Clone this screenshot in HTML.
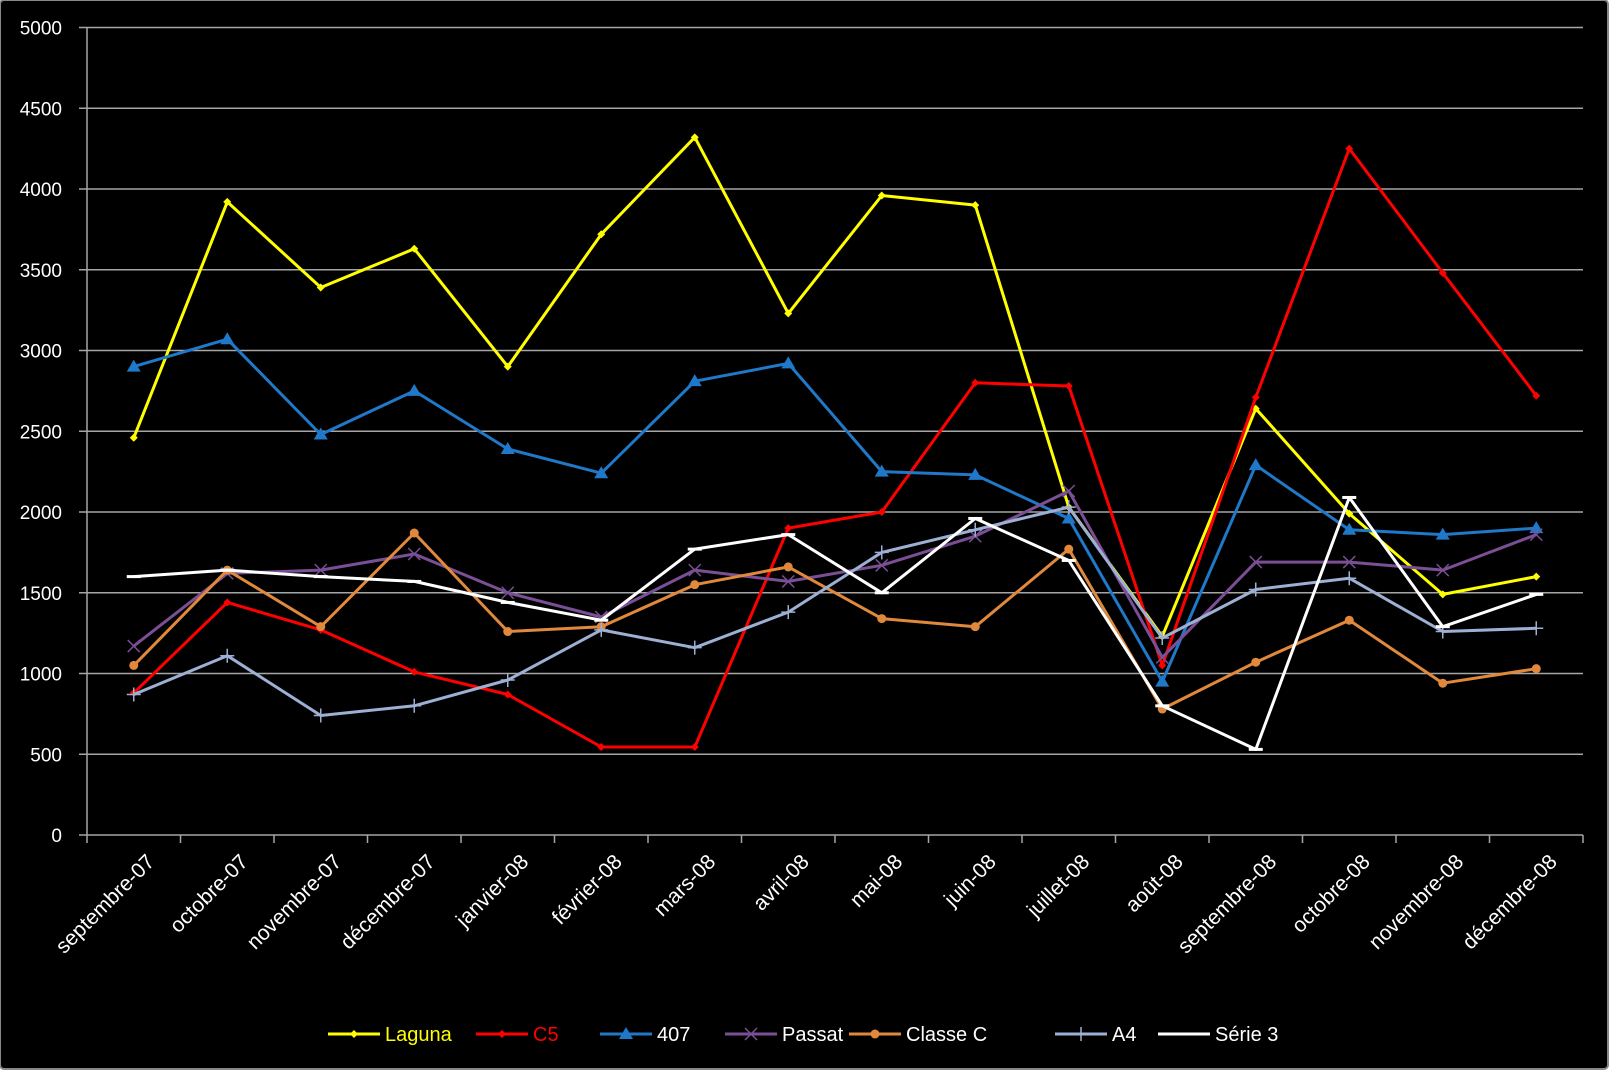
<!DOCTYPE html>
<html><head><meta charset="utf-8"><style>
html,body{margin:0;padding:0;background:#fff;}
#wrap{position:relative;width:1612px;height:1075px;overflow:hidden;background:#fff;}
svg{position:absolute;left:0;top:0;font-family:"Liberation Sans",sans-serif;}
</style></head><body>
<div id="wrap">
<svg id="chart" width="1612" height="1075">
<rect x="0" y="0" width="1608" height="1069" rx="4" fill="#000" stroke="#888" stroke-width="2"/>
<g id="grid"></g>
<g id="axes"></g>
<g id="series"></g>
<g id="legend"></g>
</svg>
</div>
<script>
const categories=["septembre-07","octobre-07","novembre-07","décembre-07","janvier-08","février-08","mars-08","avril-08","mai-08","juin-08","juillet-08","août-08","septembre-08","octobre-08","novembre-08","décembre-08"];
const yTicks=[0,500,1000,1500,2000,2500,3000,3500,4000,4500,5000];
const seriesNames=["Laguna","C5","407","Passat","Classe C","A4","Série 3"];
const laguna=[2460,3920,3390,3630,2900,3720,4320,3230,3960,3900,2030,1230,2640,1990,1490,1600];
const c5=[880,1440,1270,1010,870,545,545,1900,2000,2800,2780,1050,2710,4250,3480,2720];
const p407=[2900,3070,2480,2750,2390,2240,2810,2920,2250,2230,1960,950,2290,1890,1860,1900];
const passat=[1170,1620,1640,1740,1500,1350,1640,1570,1670,1850,2130,1100,1690,1690,1640,1860];
const classeC=[1050,1640,1290,1870,1260,1290,1550,1660,1340,1290,1770,780,1070,1330,940,1030];
const a4=[870,1110,740,800,960,1270,1160,1380,1750,1890,2030,1220,1520,1590,1260,1280];
const serie3=[1600,1640,1600,1570,1440,1330,1770,1860,1500,1960,1700,800,530,2090,1290,1490];

const NS="http://www.w3.org/2000/svg";
const L=87,R=1583,T=27.5,B=835,YMAX=5000;
const xs=i=>L+(R-L)/categories.length*(i+0.5);
const ys=v=>B-(B-T)*v/YMAX;
function mk(tag,attrs,parent){const e=document.createElementNS(NS,tag);for(const k in attrs)e.setAttribute(k,attrs[k]);parent.appendChild(e);return e;}
const grid=document.getElementById('grid'),axes=document.getElementById('axes'),sg=document.getElementById('series'),lg=document.getElementById('legend');

yTicks.forEach(v=>{
  const y=ys(v);
  if(v>0){const gl=mk('line',{x1:L-8,x2:R,y1:y,y2:y,stroke:'#a6a6a6','stroke-width':1.5},grid);
  
  }
  const t=mk('text',{x:62,y:y+7,'text-anchor':'end',fill:'#fff','font-size':19},axes);
  t.textContent=v;
  
  
});
const ya=mk('line',{x1:L,x2:L,y1:T,y2:B,stroke:'#a6a6a6','stroke-width':1.5},axes);


const xa=mk('line',{x1:L-8,x2:R,y1:B,y2:B,stroke:'#a6a6a6','stroke-width':1.5},axes);


for(let i=0;i<=categories.length;i++){
  const x=L+(R-L)/categories.length*i;
  const tk=mk('line',{x1:x,x2:x,y1:B,y2:B+8,stroke:'#a6a6a6','stroke-width':1.5},axes);
  
  
}
categories.forEach((c,i)=>{
  const x=xs(i)+22,y=B+28;
  const t=mk('text',{x:x,y:y,'text-anchor':'end',fill:'#fff','font-size':21,transform:`rotate(-45 ${x} ${y})`},axes);
  t.textContent=c;
  
  
});

const colors=['#ffff00','#ff0000','#1f78c8','#7a4f95','#e0893c','#9db0d4','#ffffff'];
const textColors=['#ffff00','#ff0000','#ffffff','#ffffff','#ffffff','#ffffff','#ffffff'];
const markers=['diamond','diamond','triangle','x','circle','plus','dash'];
const allData=[laguna,c5,p407,passat,classeC,a4,serie3];
function marker(type,x,y,col,parent){
  let e;
  if(type==='diamond')e=mk('path',{d:`M${x} ${y-4}L${x+4} ${y}L${x} ${y+4}L${x-4} ${y}Z`,fill:col},parent);
  else if(type==='triangle')e=mk('path',{d:`M${x} ${y-7}L${x+7} ${y+5}L${x-7} ${y+5}Z`,fill:col},parent);
  else if(type==='circle')e=mk('circle',{cx:x,cy:y,r:4.5,fill:col},parent);
  else if(type==='x')e=mk('path',{d:`M${x-6} ${y-6}L${x+6} ${y+6}M${x-6} ${y+6}L${x+6} ${y-6}`,stroke:col,'stroke-width':1.5,fill:'none'},parent);
  else if(type==='plus')e=mk('path',{d:`M${x-7} ${y}L${x+7} ${y}M${x} ${y-7}L${x} ${y+7}`,stroke:col,'stroke-width':1.5,fill:'none'},parent);
  else e=mk('path',{d:`M${x-7} ${y}L${x+7} ${y}`,stroke:col,'stroke-width':3,fill:'none'},parent);
  return e;
}
allData.forEach((data,s)=>{
  const g=mk('g',{},sg);
  
  
  const d=data.map((v,i)=>(i?'L':'M')+xs(i).toFixed(1)+' '+ys(v).toFixed(1)).join('');
  const p=mk('path',{d:d,fill:'none',stroke:colors[s],'stroke-width':3,'stroke-linejoin':'round'},g);
  
  
  data.forEach((v,i)=>{
    const m=marker(markers[s],xs(i),ys(v),colors[s],g);
    
    
  });
});

const lx=[328,476,600,725,849,1055,1158];
const ly=1034;
seriesNames.forEach((n,s)=>{
  const g=mk('g',{},lg);
  
  
  mk('line',{x1:lx[s],x2:lx[s]+52,y1:ly,y2:ly,stroke:colors[s],'stroke-width':3},g);
  if(markers[s]!=='dash')marker(markers[s],lx[s]+26,ly,colors[s],g);
  const t=mk('text',{x:lx[s]+57,y:ly+7,fill:textColors[s],'font-size':20},g);
  t.textContent=n;
});
</script>
</body></html>
